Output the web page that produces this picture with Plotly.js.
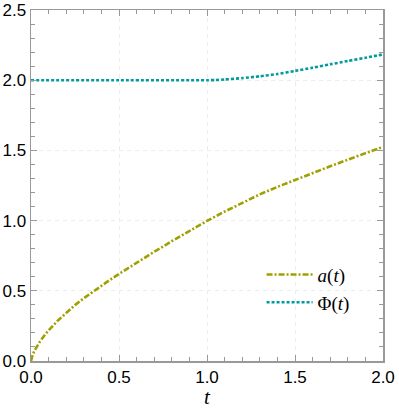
<!DOCTYPE html>
<html>
<head>
<meta charset="utf-8">
<script src="https://cdn.plot.ly/plotly-3.0.1.min.js"></script>
<style>
  html, body { margin: 0; padding: 0; background: #fff; }
  #myPlot { width: 399px; height: 409px; }
</style>
</head>
<body>
<div id="myPlot"></div>
<script>
// values
const tA = [0, 0.005, 0.01, 0.02, 0.035, 0.05, 0.075, 0.1, 0.15, 0.2, 0.25, 0.3, 0.35, 0.4, 0.45, 0.5, 0.6, 0.7, 0.8, 0.9, 1.0, 1.1, 1.2, 1.3, 1.4, 1.5, 1.6, 1.7, 1.8, 1.9, 2.0];
const aVals = [0, 0.029, 0.047, 0.074, 0.108, 0.137, 0.18, 0.218, 0.285, 0.345, 0.398, 0.447, 0.493, 0.537, 0.579, 0.62, 0.7, 0.778, 0.853, 0.927, 0.998, 1.064, 1.127, 1.187, 1.24, 1.29, 1.339, 1.387, 1.434, 1.48, 1.525];

const tPhi = [0, 0.5, 1.0, 1.05, 1.1, 1.2, 1.3, 1.4, 1.5, 1.6, 1.7, 1.8, 1.9, 2.0];
const phiVals = [2.0, 2.0, 2.0, 2.001, 2.005, 2.015, 2.028, 2.044, 2.066, 2.089, 2.113, 2.137, 2.16, 2.184];

const xTicks = [0, 0.5, 1.0, 1.5, 2.0];
const xLabels = ['0.0', '0.5', '1.0', '1.5', '2.0'];
const yTicks = [0, 0.5, 1.0, 1.5, 2.0, 2.5];
const yLabels = ['0.0', '0.5', '1.0', '1.5', '2.0', '2.5'];

const data = [{
    x: tA,
    y: aVals,
    mode: 'lines',
    name: '<i>a</i>(<i>t</i>)',
    line: {color: '#a0a000', width: 2.6, dash: '6px,2px,2px,2px'},
    type: 'scatter',
}, {
    x: tPhi,
    y: phiVals,
    mode: 'lines',
    name: 'Φ(<i>t</i>)',
    line: {shape: 'spline', smoothing: 0.6, color: '#009b9b', width: 2.6, dash: '3px,2px'},
    type: 'scatter',
}];

const tickFont = {family: 'Liberation Sans, Arial, sans-serif', size: 17, color: '#000'};

const layout = {
    width: 399,
    height: 409,
    margin: {l: 31, r: 16, t: 10, b: 48, pad: 0},
    showlegend: true,
    legend: {
        x: 0.655, y: 0.3, xanchor: 'left', yanchor: 'top',
        bgcolor: 'rgba(0,0,0,0)',
        font: {family: 'Liberation Serif, serif', size: 19, color: '#000'},
        itemwidth: 46,
        tracegroupgap: 0,
    },
    xaxis: {
        range: [0, 2],
        tickvals: xTicks,
        ticktext: xLabels,
        tickfont: tickFont,
        ticks: 'inside',
        ticklen: 6,
        tickcolor: '#999',
        minor: {dtick: 0.1, ticks: 'inside', ticklen: 4, tickcolor: '#999', showgrid: false},
        showline: true,
        linecolor: '#999',
        linewidth: 1.5,
        mirror: 'ticks',
        showgrid: true,
        gridcolor: '#ececec',
        griddash: '4px,4px',
        zeroline: false,
        title: {text: '<i>t</i>', font: {family: 'Liberation Serif, serif', size: 21, color: '#000'}, standoff: 4},
    },
    yaxis: {
        range: [0, 2.5],
        tickvals: yTicks,
        ticktext: yLabels,
        tickfont: tickFont,
        ticks: 'inside',
        ticklen: 6,
        tickcolor: '#999',
        minor: {dtick: 0.1, ticks: 'inside', ticklen: 4, tickcolor: '#999', showgrid: false},
        showline: true,
        linecolor: '#999',
        linewidth: 1.5,
        mirror: 'ticks',
        showgrid: true,
        gridcolor: '#ececec',
        griddash: '4px,4px',
        zeroline: false,
    },
    paper_bgcolor: '#fff',
    plot_bgcolor: '#fff',
};

Plotly.newPlot('myPlot', data, layout, {staticPlot: true});
</script>
</body>
</html>
